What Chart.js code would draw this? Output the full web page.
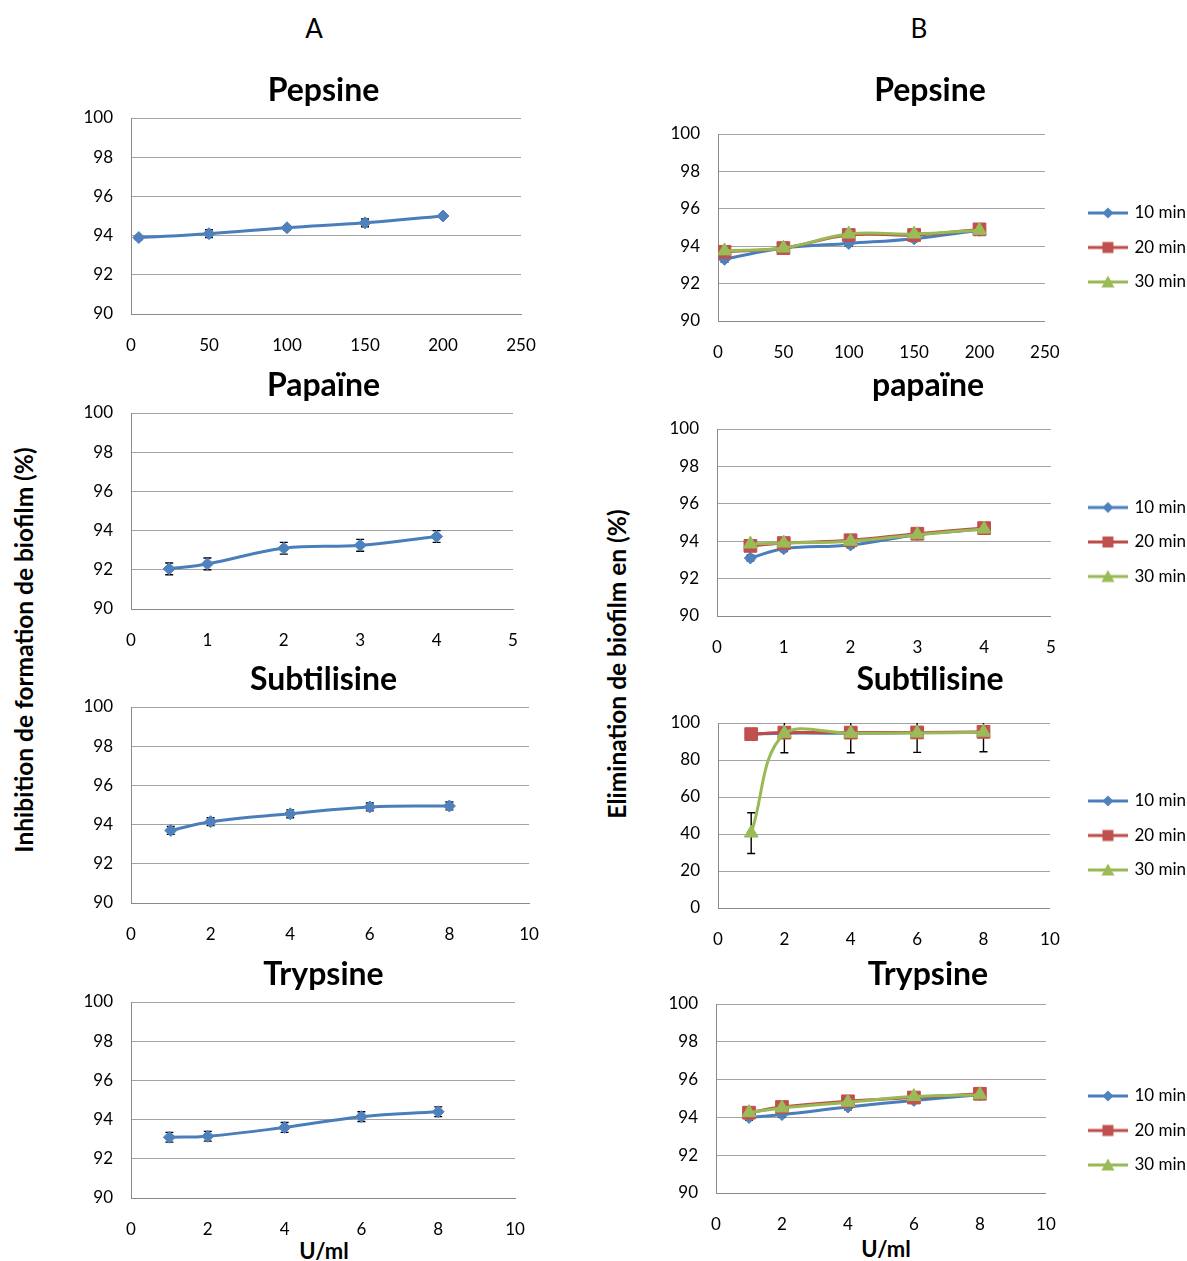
<!DOCTYPE html>
<html>
<head>
<meta charset="utf-8">
<title>Pepsine, papaïne, subtilisine, trypsine</title>
<script src="https://cdn.jsdelivr.net/npm/chart.js@4.4.1/dist/chart.umd.min.js"></script>
<style>
  html, body { margin: 0; padding: 0; background: #fff; }
  body { position: relative; width: 1187px; height: 1261px; overflow: hidden; font-family: Lato, "Open Sans", sans-serif; color: #000; }
  canvas { position: absolute; }
  .txt { position: absolute; white-space: nowrap; transform: translate(-50%, -50%); }
  .axt { font-weight: bold; font-size: 24.5px; }
  .unit { font-weight: bold; font-size: 22px; }
</style>
</head>
<body>
<div class="txt" style="left:314px;top:28px;font-size:26px;">A</div>
<div class="txt" style="left:919px;top:28px;font-size:26px;">B</div>
<div class="txt axt" style="left:23px;top:650px;transform:translate(-50%,-50%) rotate(-90deg);">Inhibition de formation de biofilm (%)</div>
<div class="txt axt" style="left:616px;top:664px;transform:translate(-50%,-50%) rotate(-90deg);">Elimination de biofilm en (%)</div>
<div class="txt unit" style="left:324px;top:1250px;">U/ml</div>
<div class="txt unit" style="left:886px;top:1248px;">U/ml</div>

<canvas id="a1"></canvas>
<canvas id="a2"></canvas>
<canvas id="a3"></canvas>
<canvas id="a4"></canvas>
<canvas id="b1"></canvas>
<canvas id="b2"></canvas>
<canvas id="b3"></canvas>
<canvas id="b4"></canvas>

<script>
// concentrations (U/ml)
var dosePepsine = [5, 50, 100, 150, 200];
var dosePapaine = [0.5, 1, 2, 3, 4];
var doseSubtilisine = [1, 2, 4, 6, 8];
var doseTrypsine = [1, 2, 4, 6, 8];

// A - inhibition de formation de biofilm (%)
var inhibPepsine = [93.9, 94.1, 94.4, 94.65, 95.0];
var errInhibPepsine = [0.1, 0.2, 0.1, 0.2, 0.1];
var inhibPapaine = [92.05, 92.3, 93.1, 93.25, 93.7];
var errInhibPapaine = [0.3, 0.3, 0.3, 0.3, 0.3];
var inhibSubtilisine = [93.7, 94.15, 94.55, 94.9, 94.95];
var errInhibSubtilisine = [0.2, 0.2, 0.2, 0.2, 0.2];
var inhibTrypsine = [93.1, 93.15, 93.6, 94.15, 94.4];
var errInhibTrypsine = [0.25, 0.25, 0.25, 0.25, 0.25];

// B - elimination de biofilm (%), 10 / 20 / 30 min
var timeLabels = ['10 min', '20 min', '30 min'];
var elimPepsine10 = [93.3, 93.9, 94.15, 94.4, 94.85];
var elimPepsine20 = [93.7, 93.9, 94.6, 94.6, 94.9];
var elimPepsine30 = [93.75, 93.9, 94.65, 94.65, 94.85];
var elimPapaine10 = [93.1, 93.6, 93.8, 94.35, 94.65];
var elimPapaine20 = [93.75, 93.9, 94.05, 94.4, 94.7];
var elimPapaine30 = [93.85, 93.9, 94.0, 94.35, 94.65];
var elimSubtilisine10 = [94.0, 94.5, 94.5, 94.8, 95.0];
var elimSubtilisine20 = [94.0, 94.8, 94.8, 94.9, 95.2];
var elimSubtilisine30 = [40.5, 94.4, 94.4, 94.6, 95.0];
var errElimSubtilisine30 = [11, 10.5, 10.5, 10.5, 10.5];
var elimTrypsine10 = [94.0, 94.15, 94.55, 94.9, 95.2];
var elimTrypsine20 = [94.25, 94.55, 94.85, 95.05, 95.25];
var elimTrypsine30 = [94.25, 94.5, 94.8, 95.1, 95.2];
var errSmall = [0.15, 0.15, 0.15, 0.15, 0.15];

var FONT = 'Lato, "Open Sans", sans-serif';
var TITLE_SIZE = 32, TITLE_LH = 36;
var LEG_FONT = 17, LEG_PAD = 17.5, LEG_BOX = 36, LEG_ICON_X = 1088;
var GRID = '#a3a3a3', AXIS = '#8a8a8a';

Chart.defaults.font.family = FONT;
Chart.defaults.color = '#000';

var styles = [
    { line: '#4a7ebb', fill: '#4f81bd', shape: 'rectRot', r: 6 },
    { line: '#be4b48', fill: '#c0504d', shape: 'rect', r: 9 },
    { line: '#98b954', fill: '#9bbb59', shape: 'triangle', r: 8 }
];

function legendIcon(st) {
    var c = document.createElement('canvas');
    c.width = 40; c.height = 18;
    var g = c.getContext('2d');
    g.strokeStyle = st.line; g.lineWidth = 3;
    g.beginPath(); g.moveTo(0, 9); g.lineTo(40, 9); g.stroke();
    g.fillStyle = st.fill;
    g.beginPath();
    if (st.shape === 'rectRot') { g.moveTo(20, 3.5); g.lineTo(25.5, 9); g.lineTo(20, 14.5); g.lineTo(14.5, 9); }
    else if (st.shape === 'rect') { g.rect(14.5, 3.5, 11, 11); }
    else { g.moveTo(20, 2.5); g.lineTo(26.5, 14.5); g.lineTo(13.5, 14.5); }
    g.closePath(); g.fill();
    return c;
}
var icons = styles.map(legendIcon);

// error bars drawn under the markers
var errorBarPlugin = {
    id: 'errorBars',
    beforeDatasetsDraw: function (chart) {
        var ctx = chart.ctx, area = chart.chartArea, xs = chart.scales.x, ys = chart.scales.y;
        ctx.save();
        ctx.beginPath();
        ctx.rect(area.left, area.top, area.right - area.left, area.bottom - area.top);
        ctx.clip();
        ctx.strokeStyle = '#000';
        ctx.lineWidth = 1.4;
        chart.data.datasets.forEach(function (ds) {
            if (!ds.errorBars) return;
            ds.data.forEach(function (pt, i) {
                var e = ds.errorBars[i];
                var x = xs.getPixelForValue(pt.x);
                var y1 = ys.getPixelForValue(pt.y - e), y2 = ys.getPixelForValue(pt.y + e);
                ctx.beginPath();
                ctx.moveTo(x, y1); ctx.lineTo(x, y2);
                ctx.moveTo(x - 4, y1); ctx.lineTo(x + 4, y1);
                ctx.moveTo(x - 4, y2); ctx.lineTo(x + 4, y2);
                ctx.stroke();
            });
        });
        ctx.restore();
    }
};

function makeSet(label, xs, ys, errs, st, order) {
    return {
        label: label,
        data: xs.map(function (x, i) { return { x: x, y: ys[i] }; }),
        errorBars: errs,
        borderColor: st.line,
        backgroundColor: st.fill,
        borderWidth: 3,
        tension: 0.4,
        pointStyle: st.shape,
        pointRadius: st.r,
        pointHoverRadius: st.r,
        pointBackgroundColor: st.fill,
        pointBorderColor: st.fill,
        pointBorderWidth: 1,
        order: order
    };
}

function build(id, spec) {
    var canvas = document.getElementById(id);
    var hasLegend = spec.sets.length > 1;
    var top = spec.ty - TITLE_LH / 2;
    var titleGap = spec.T - top - TITLE_LH;
    var left, width, height, rightGap, xh;
    if (hasLegend) {
        var m = document.createElement('canvas').getContext('2d');
        m.font = LEG_FONT + 'px ' + FONT;
        var tw = Math.max.apply(null, timeLabels.map(function (t) { return m.measureText(t).width; }));
        var legendLeft = LEG_ICON_X + 2 - LEG_PAD;
        var right = legendLeft + LEG_PAD + LEG_BOX + LEG_FONT / 2 + tw + 10;
        left = Math.round(2 * spec.tx - right);
        width = Math.round(right - left);
        rightGap = legendLeft - spec.R;
        height = Math.round(2 * (spec.legendMid - top));
        xh = top + height - spec.B;
    } else {
        left = spec.L - 71;
        width = Math.round(2 * (spec.tx - left));
        rightGap = left + width - spec.R;
        height = spec.B + 45 - top;
        xh = 45;
    }
    var yw = spec.L - left;
    canvas.width = width; canvas.height = height;
    canvas.style.left = left + 'px';
    canvas.style.top = top + 'px';
    canvas.style.width = width + 'px';
    canvas.style.height = height + 'px';

    var tickFont = { family: FONT, size: 17 };
    new Chart(canvas, {
        type: 'line',
        data: { datasets: spec.sets },
        plugins: [errorBarPlugin],
        options: {
            responsive: false,
            animation: false,
            devicePixelRatio: 1,
            layout: { padding: 0 },
            plugins: {
                title: {
                    display: true, text: spec.title, color: '#000', fullSize: true,
                    font: { family: FONT, size: TITLE_SIZE, weight: 'bold', lineHeight: TITLE_LH / TITLE_SIZE },
                    padding: { top: 0, bottom: titleGap }
                },
                legend: hasLegend ? {
                    display: true, position: 'right', align: 'center', maxWidth: 400,
                    labels: {
                        usePointStyle: true, pointStyleWidth: LEG_BOX, padding: LEG_PAD, color: '#000',
                        font: { family: FONT, size: LEG_FONT },
                        sort: function (a, b) { return a.datasetIndex - b.datasetIndex; },
                        generateLabels: function (chart) {
                            return Chart.defaults.plugins.legend.labels.generateLabels(chart).map(function (item) {
                                item.pointStyle = icons[item.datasetIndex];
                                return item;
                            });
                        }
                    }
                } : { display: false },
                tooltip: { enabled: false }
            },
            scales: {
                x: {
                    type: 'linear', min: spec.xMin, max: spec.xMax,
                    ticks: { stepSize: spec.xStep, padding: 13, font: tickFont, color: '#000', maxRotation: 0, autoSkip: false },
                    grid: { display: false },
                    border: { display: true, color: AXIS, width: 1 },
                    afterFit: function (s) { s.height = xh; }
                },
                y: {
                    type: 'linear', position: 'left', min: spec.yMin, max: spec.yMax,
                    ticks: { stepSize: spec.yStep, padding: 18, font: tickFont, color: '#000' },
                    grid: { color: GRID, drawTicks: false },
                    border: { display: true, color: AXIS, width: 1 },
                    afterFit: function (s) { s.width = yw; }
                },
                yGap: {
                    type: 'linear', position: 'right', display: true,
                    grid: { display: false }, ticks: { display: false }, border: { display: false },
                    afterFit: function (s) { s.width = rightGap; }
                }
            }
        }
    });
}

function single(xs, ys, errs) {
    return [makeSet('Série1', xs, ys, errs, styles[0], 0)];
}
function triple(xs, a, b, c, errC, errAB) {
    return [
        makeSet(timeLabels[0], xs, a, errAB || errSmall, styles[0], 2),
        makeSet(timeLabels[1], xs, b, errAB || errSmall, styles[1], 1),
        makeSet(timeLabels[2], xs, c, errC || errSmall, styles[2], 0)
    ];
}

build('a1', { title: 'Pepsine', tx: 323.5, ty: 91, L: 131, T: 118, R: 521, B: 314,
    xMin: 0, xMax: 250, xStep: 50, yMin: 90, yMax: 100, yStep: 2,
    sets: single(dosePepsine, inhibPepsine, errInhibPepsine) });
build('a2', { title: 'Papaïne', tx: 323.5, ty: 386, L: 131, T: 413, R: 513, B: 609,
    xMin: 0, xMax: 5, xStep: 1, yMin: 90, yMax: 100, yStep: 2,
    sets: single(dosePapaine, inhibPapaine, errInhibPapaine) });
build('a3', { title: 'Subtilisine', tx: 323.5, ty: 680, L: 131, T: 707, R: 529, B: 903,
    xMin: 0, xMax: 10, xStep: 2, yMin: 90, yMax: 100, yStep: 2,
    sets: single(doseSubtilisine, inhibSubtilisine, errInhibSubtilisine) });
build('a4', { title: 'Trypsine', tx: 323.5, ty: 975, L: 131, T: 1002, R: 515, B: 1198,
    xMin: 0, xMax: 10, xStep: 2, yMin: 90, yMax: 100, yStep: 2,
    sets: single(doseTrypsine, inhibTrypsine, errInhibTrypsine) });

build('b1', { title: 'Pepsine', tx: 930, ty: 91, L: 718, T: 134, R: 1045, B: 321, legendMid: 247.5,
    xMin: 0, xMax: 250, xStep: 50, yMin: 90, yMax: 100, yStep: 2,
    sets: triple(dosePepsine, elimPepsine10, elimPepsine20, elimPepsine30) });
build('b2', { title: 'papaïne', tx: 928, ty: 386, L: 717, T: 429, R: 1051, B: 616, legendMid: 542,
    xMin: 0, xMax: 5, xStep: 1, yMin: 90, yMax: 100, yStep: 2,
    sets: triple(dosePapaine, elimPapaine10, elimPapaine20, elimPapaine30) });
build('b3', { title: 'Subtilisine', tx: 930, ty: 680, L: 718, T: 723, R: 1050, B: 908, legendMid: 835.5,
    xMin: 0, xMax: 10, xStep: 2, yMin: 0, yMax: 100, yStep: 20,
    sets: triple(doseSubtilisine, elimSubtilisine10, elimSubtilisine20, elimSubtilisine30, errElimSubtilisine30, [0.5, 0.5, 0.5, 0.5, 0.5]) });
build('b4', { title: 'Trypsine', tx: 928, ty: 975, L: 716, T: 1004, R: 1046, B: 1193, legendMid: 1130.5,
    xMin: 0, xMax: 10, xStep: 2, yMin: 90, yMax: 100, yStep: 2,
    sets: triple(doseTrypsine, elimTrypsine10, elimTrypsine20, elimTrypsine30) });
</script>
</body>
</html>
